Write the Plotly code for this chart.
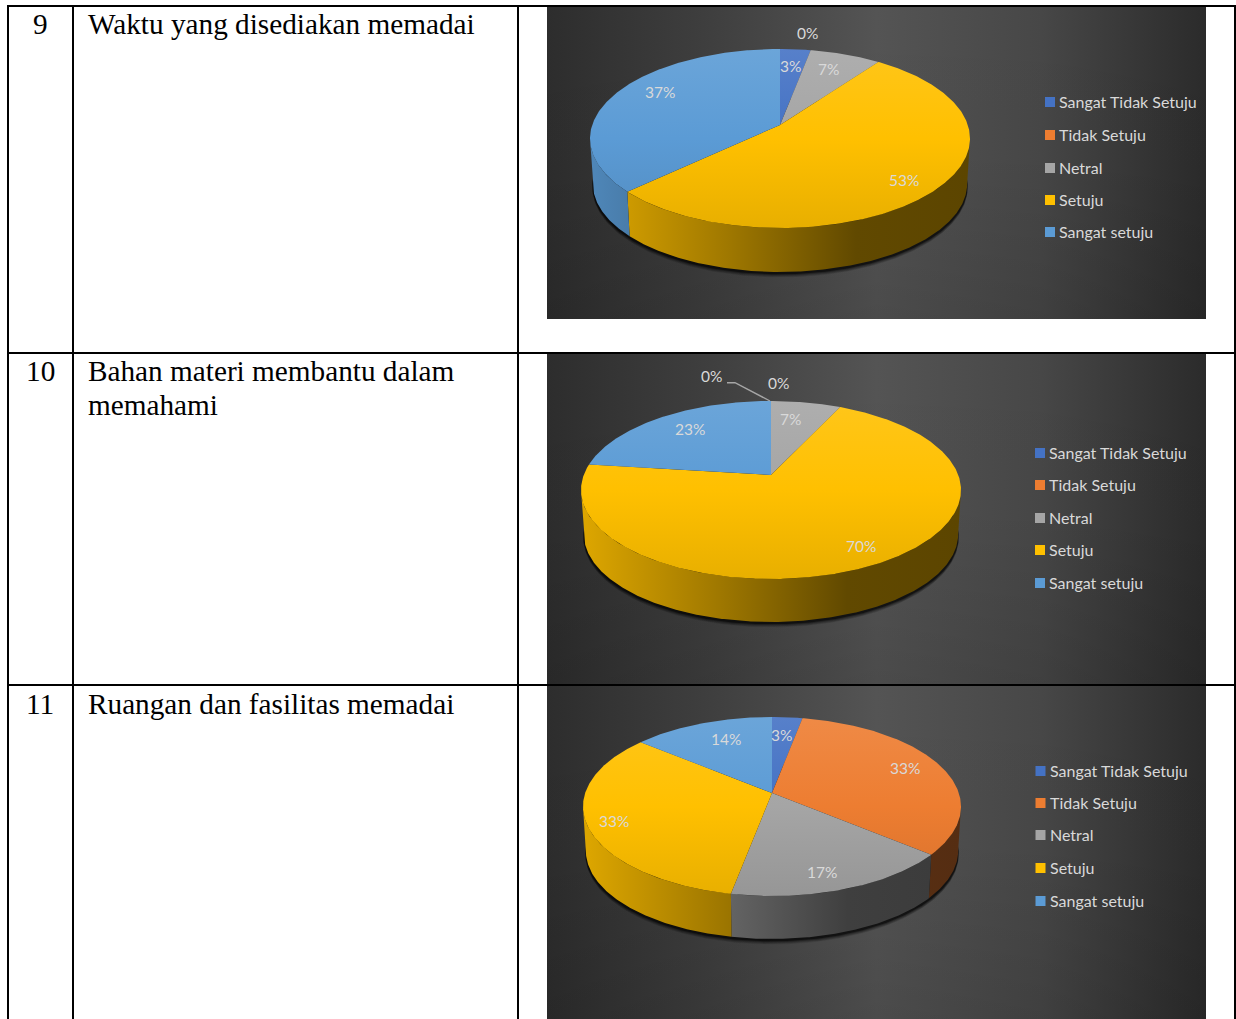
import numpy as np
import plotly.graph_objects as go

WIDTH, HEIGHT = 1236, 1019

# Table content, one entry per printed line
ROW_NUMBERS = ["9", "10", "11"]
ROW_TEXTS = [
    ["Waktu yang disediakan memadai"],
    ["Bahan materi membantu dalam", "memahami"],
    ["Ruangan dan fasilitas memadai"],
]

# Survey answers, in percent
CATEGORIES = ["Sangat Tidak Setuju", "Tidak Setuju", "Netral", "Setuju", "Sangat setuju"]
WAKTU_VALUES = [3, 0, 7, 53, 37]
BAHAN_VALUES = [0, 0, 7, 70, 23]
RUANGAN_VALUES = [3, 33, 17, 33, 14]

COLORS = [(68, 114, 196), (237, 125, 49), (165, 165, 165), (255, 192, 0), (91, 155, 213)]

# Table rules
V_RULES = [8, 73, 518, 1235]
H_RULES = [6, 353, 685]

# Per-chart layout: panel extent, pie apex, top-face extents, wall depth
PANELS = [
    dict(values=WAKTU_VALUES, y0=7, y1=319, ax=780, ay=125, top=49, bottom=228, rx=190, drop=45.5,
         legend_x=1050, legend_y=[102, 135, 168, 200, 232],
         label_xy=[(791, 67), (808, 34), (829, 70), (904, 181), (660, 93)]),
    dict(values=BAHAN_VALUES, y0=354, y1=685, ax=771, ay=475, top=401, bottom=579, rx=190, drop=44.5,
         legend_x=1040, legend_y=[453, 485, 518, 550, 583],
         label_xy=[(712, 377), (779, 384), (791, 420), (861, 547), (690, 430)]),
    dict(values=RUANGAN_VALUES, y0=686, y1=1019, ax=772, ay=793, top=717, bottom=896, rx=189, drop=44.5,
         legend_x=1040.5, legend_y=[771, 803, 835, 868, 901],
         label_xy=[(782, 736), (905, 769), (822, 873), (614, 822), (726, 740)]),
]
PANEL_X = (547, 1206)
LEADER_X = [727, 735, 770]
LEADER_Y = [382.7, 382.7, 401]

LABEL_FONT = "Lato"
TEXT_GREY = "#D9D9D9"


def rgb(c, f=1.0):
    return "rgb({},{},{})".format(*[int(min(255, round(v * f))) for v in c])


def mix(c, other, t):
    return tuple(a + (b - a) * t for a, b in zip(c, other))


class Perspective:
    """Tilted disc: maps a clock angle on the pie to page pixels."""

    def __init__(self, p):
        up, down = p["ay"] - p["top"], p["bottom"] - p["ay"]
        self.k = (down - up) / (down + up)
        self.h = up * (1 + self.k)
        self.r = p["rx"] * np.sqrt(1 - self.k ** 2)
        self.ax, self.ay = p["ax"], p["ay"]
        self.drop = p["drop"]

    def point(self, theta, scale=1.0, drop=0.0):
        u, v = np.sin(theta), np.cos(theta)
        d = 1 + self.k * v
        return self.ax + scale * self.r * u / d, self.ay + drop - scale * self.h * v / d


def polygon(fig, x, y, **style):
    fig.add_trace(go.Scatter(x=list(x), y=list(y), mode="lines", fill="toself",
                             line=dict(width=0), hoverinfo="skip", showlegend=False, **style))


def wall_scale(c):
    """Side wall shading, bright at the left and falling off to the right."""
    stops = [(0, 0.87), (0.37, 0.62), (0.7, 0.38), (1, 0.36)]
    return [[s, rgb(c, f)] for s, f in stops]


def draw_pie(fig, p):
    persp = Perspective(p)
    wall_s = 0.985
    full = np.linspace(0, 2 * np.pi, 361)

    # soft contact shadow below the disc
    for off, sc, alpha in [(6, 0.98, 0.07), (5, 0.985, 0.10), (4, 0.988, 0.16), (3, 0.988, 0.28), (2, 0.988, 0.5)]:
        x, y = persp.point(full, sc, persp.drop + off)
        polygon(fig, x, y, fillcolor=f"rgba(0,0,0,{alpha})")

    total = sum(p["values"])
    edges = np.cumsum([0] + p["values"]) / total * 2 * np.pi
    vis0 = np.arccos(-persp.k)
    vis1 = 2 * np.pi - vis0
    x_lo, x_hi = p["ax"] - p["rx"], p["ax"] + p["rx"]

    # side walls of the slices facing the viewer
    for i, c in enumerate(COLORS):
        a, b = max(edges[i], vis0), min(edges[i + 1], vis1)
        if b <= a:
            continue
        t = np.linspace(a, b, max(3, int(np.degrees(b - a)) * 2))
        ux, uy = persp.point(t)
        lx, ly = persp.point(t[::-1], wall_s, persp.drop)
        polygon(fig, np.r_[ux, lx], np.r_[uy, ly],
                fillgradient=dict(type="horizontal", start=x_lo, stop=x_hi, colorscale=wall_scale(c)))

    # top faces
    for i, c in enumerate(COLORS):
        if p["values"][i] == 0:
            continue
        a, b = edges[i], edges[i + 1]
        t = np.linspace(a, b, max(3, int(np.degrees(b - a)) * 2))
        ux, uy = persp.point(t)
        scale = [[0, rgb(mix(c, (255, 255, 255), 0.10))],
                 [0.5, rgb(c)],
                 [1, rgb(c, 0.91)]]
        polygon(fig, np.r_[p["ax"], ux, p["ax"]], np.r_[p["ay"], uy, p["ay"]],
                fillgradient=dict(type="vertical", start=p["top"], stop=p["bottom"], colorscale=scale))


fig = go.Figure()
annotations = []


def text(x, y, s, size, color, family, xanchor="center", yanchor="middle", **kw):
    annotations.append(dict(x=x, y=y, text=s, showarrow=False, xref="x", yref="y",
                            xanchor=xanchor, yanchor=yanchor, align="left",
                            font=dict(size=size, color=color, family=family),
                            borderpad=0, **kw))


for p in PANELS:
    box_x = [PANEL_X[0], PANEL_X[1], PANEL_X[1], PANEL_X[0], PANEL_X[0]]
    box_y = [p["y0"], p["y0"], p["y1"], p["y1"], p["y0"]]
    # panel backdrop: dark at the sides, lighter through the middle
    polygon(fig, box_x, box_y,
            fillgradient=dict(type="horizontal", start=PANEL_X[0], stop=PANEL_X[1],
                              colorscale=[[0, "#2D2D2D"], [0.25, "#3F3F3F"], [0.5, "#545454"],
                                          [0.75, "#474747"], [1, "#2B2B2B"]]))
    # slight falloff toward the bottom of the panel
    polygon(fig, box_x, box_y,
            fillgradient=dict(type="vertical", start=p["y0"], stop=p["y1"],
                              colorscale=[[0, "rgba(0,0,0,0)"], [0.5, "rgba(0,0,0,0.02)"], [1, "rgba(0,0,0,0.11)"]]))
    draw_pie(fig, p)

    # slice value labels
    for v, (lx, ly) in zip(p["values"], p["label_xy"]):
        text(lx - 0.5, ly - 1, f"{v}%", 15.5, TEXT_GREY, LABEL_FONT)

    # legend swatches and names
    fig.add_trace(go.Scatter(x=[p["legend_x"]] * len(CATEGORIES), y=p["legend_y"], mode="markers",
                             marker=dict(symbol="square", size=10, color=[rgb(c) for c in COLORS], line=dict(width=0)),
                             hoverinfo="skip", showlegend=False))
    for name, ly in zip(CATEGORIES, p["legend_y"]):
        text(p["legend_x"] + 8, ly - 1, name, 16, TEXT_GREY, LABEL_FONT, xanchor="left")

# leader line of the second chart's zero label
fig.add_trace(go.Scatter(x=LEADER_X, y=LEADER_Y, mode="lines", line=dict(color="#A6A6A6", width=1.4),
                         hoverinfo="skip", showlegend=False))

# table text
SERIF = "Liberation Serif"
SERIF_SIZE = 29.25
LINE_STEP = 34
for num, lines, y in zip(ROW_NUMBERS, ROW_TEXTS, [23.5, 370.5, 703.5]):
    text(40, y, num, SERIF_SIZE, "#000000", SERIF)
    for j, line in enumerate(lines):
        text(86.8, y + j * LINE_STEP, line, SERIF_SIZE, "#000000", SERIF, xanchor="left")

shapes = [dict(type="line", x0=x, x1=x, y0=5, y1=HEIGHT, xref="x", yref="y",
               line=dict(color="#000000", width=2), layer="above") for x in V_RULES]
shapes += [dict(type="line", x0=7, x1=1236, y0=y, y1=y, xref="x", yref="y",
                line=dict(color="#000000", width=2), layer="above") for y in H_RULES]

fig.update_layout(
    width=WIDTH, height=HEIGHT, autosize=False,
    margin=dict(l=0, r=0, t=0, b=0, pad=0),
    paper_bgcolor="white", plot_bgcolor="white",
    xaxis=dict(range=[0, WIDTH], visible=False, fixedrange=True),
    yaxis=dict(range=[HEIGHT, 0], visible=False, fixedrange=True),
    shapes=shapes, annotations=annotations, showlegend=False,
)
fig.write_html("out.html", config=dict(displayModeBar=False))
